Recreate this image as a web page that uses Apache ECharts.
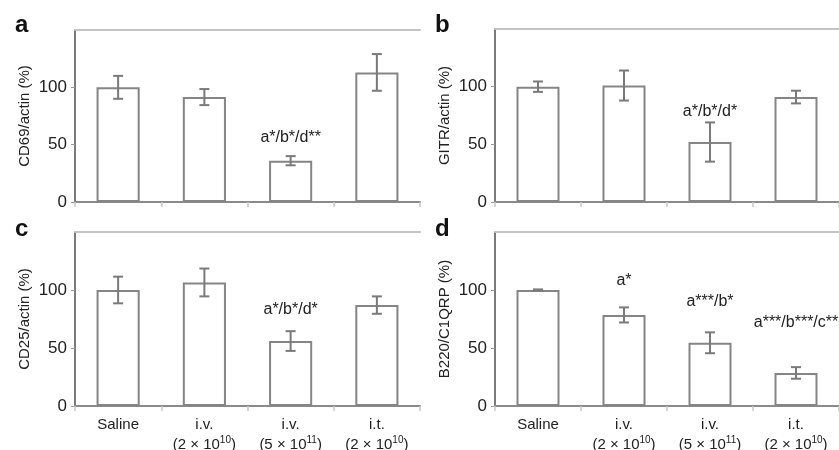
<!DOCTYPE html>
<html>
<head>
<meta charset="utf-8">
<script src="https://cdn.jsdelivr.net/npm/echarts@6/dist/echarts.min.js"></script>
<style>
  html, body { margin: 0; padding: 0; background: #fff; }
  #chart { width: 839px; height: 450px; }
</style>
</head>
<body>
<div id="chart"></div>
<script>
// categories and tick label pieces
const categories = ['Saline', 'i.v. (2x10^10)', 'i.v. (5x10^11)', 'i.t. (2x10^10)'];
const tickLine1 = ['Saline', 'i.v.', 'i.v.', 'i.t.'];
const tickLine2 = ['', '(2 \u00d7 10', '(5 \u00d7 10', '(2 \u00d7 10'];
const tickExp = ['', '10', '11', '10'];
const yTicks = [0, 50, 100];

// panel values (% of saline) and error bars
const cd69 = [100, 91.5, 36, 113];
const cd69Err = [10, 7, 4, 16];
const gitr = [100, 101, 52, 91];
const gitrErr = [4.5, 13, 17, 5.5];
const cd25 = [100, 106.5, 56, 87];
const cd25Err = [11.5, 12, 8.5, 7.5];
const b220 = [100, 78.5, 54.5, 28.5];
const b220Err = [0.5, 6.5, 9, 5];

// significance notes: [category index, value, text]
const notesA = [[2, 56, 'a*/b*/d**']];
const notesB = [[2, 78, 'a*/b*/d*']];
const notesC = [[2, 83, 'a*/b*/d*']];
const notesD = [[1, 108.5, 'a*'], [2, 90, 'a***/b*'], [3, 71.5, 'a***/b***/c**']];

const panels = [
  { letter: 'a', name: 'CD69/actin (%)', vals: cd69, err: cd69Err, notes: notesA },
  { letter: 'b', name: 'GITR/actin (%)', vals: gitr, err: gitrErr, notes: notesB },
  { letter: 'c', name: 'CD25/actin (%)', vals: cd25, err: cd25Err, notes: notesC },
  { letter: 'd', name: 'B220/C1QRP (%)', vals: b220, err: b220Err, notes: notesD }
];

const font = '"Liberation Sans", Arial, sans-serif';
const ink = '#222';
const grids = [
  { left: 75, width: 345, top: 30, height: 172, outerBoundsMode: 'none' },
  { left: 495, width: 344, top: 29, height: 173, outerBoundsMode: 'none' },
  { left: 75, width: 345, top: 232, height: 174, outerBoundsMode: 'none' },
  { left: 495, width: 344, top: 232, height: 174, outerBoundsMode: 'none' }
];

const chart = echarts.init(document.getElementById('chart'));

const xAxis = [];
const yAxis = [];
const series = [];
const title = [];

panels.forEach((p, i) => {
  const showLabels = i >= 2;
  xAxis.push({
    type: 'category', gridIndex: i, data: categories,
    axisLine: { lineStyle: { color: '#8a8a8a', width: 2 } },
    axisTick: { show: true, length: 5, lineStyle: { color: '#c8c8c8', width: 1.5 } },
    axisLabel: {
      show: showLabels, interval: 0, margin: 9, fontFamily: font, color: ink,
      formatter: (v, idx) => {
        let s = '{n|' + tickLine1[idx] + '}';
        if (tickLine2[idx]) s += '\n{n|' + tickLine2[idx] + '}{s|' + tickExp[idx] + '}{n|)}';
        return s;
      },
      rich: {
        n: { fontSize: 15, lineHeight: 20, fontFamily: font, color: ink },
        s: { fontSize: 10, lineHeight: 20, verticalAlign: 'top', fontFamily: font, color: ink }
      }
    }
  });
  // top border line
  xAxis.push({
    type: 'category', gridIndex: i, data: categories, position: 'top',
    axisLine: { lineStyle: { color: '#c4c4c4', width: 2 } },
    axisTick: { show: false }, axisLabel: { show: false }
  });
  yAxis.push({
    type: 'value', gridIndex: i, min: 0, max: 150, interval: 50,
    name: p.name, nameLocation: 'middle', nameGap: 43,
    nameTextStyle: { fontSize: 15, fontFamily: font, color: ink },
    axisLine: { show: true, lineStyle: { color: '#7a7a7a', width: 2 } },
    axisTick: { show: true, length: 4, lineStyle: { color: '#9a9a9a' } },
    splitLine: { show: false },
    axisLabel: {
      showMaxLabel: false, fontSize: 17, fontFamily: font, color: ink, margin: 8,
      formatter: v => (yTicks.indexOf(v) >= 0 ? String(v) : '')
    }
  });
  series.push({
    type: 'bar', xAxisIndex: i * 2, yAxisIndex: i, data: p.vals, barWidth: '50%',
    itemStyle: { color: '#fff', borderColor: '#858585', borderWidth: 2 },
    silent: true
  });
  series.push({
    type: 'custom', xAxisIndex: i * 2, yAxisIndex: i,
    data: p.vals.map((v, k) => [k, v, p.err[k]]),
    renderItem: (params, api) => {
      const k = api.value(0), v = api.value(1), e = api.value(2);
      const top = api.coord([k, v + e]);
      const bot = api.coord([k, v - e]);
      const hw = 5;
      const st = { stroke: '#7a7a7a', lineWidth: 2 };
      return {
        type: 'group', children: [
          { type: 'line', shape: { x1: top[0], y1: top[1], x2: bot[0], y2: bot[1] }, style: st },
          { type: 'line', shape: { x1: top[0] - hw, y1: top[1], x2: top[0] + hw, y2: top[1] }, style: st },
          { type: 'line', shape: { x1: bot[0] - hw, y1: bot[1], x2: bot[0] + hw, y2: bot[1] }, style: st }
        ]
      };
    },
    z: 5, silent: true
  });
  series.push({
    type: 'custom', xAxisIndex: i * 2, yAxisIndex: i,
    data: p.notes,
    renderItem: (params, api) => {
      const pt = api.coord([api.value(0), api.value(1)]);
      const txt = p.notes[params.dataIndex][2];
      return {
        type: 'text', x: pt[0], y: pt[1],
        style: { text: txt, fontSize: 16, fontFamily: font, fill: ink, align: 'center', verticalAlign: 'middle' }
      };
    },
    z: 6, silent: true
  });
  title.push({
    text: p.letter,
    left: i % 2 === 0 ? 10 : 430,
    top: i < 2 ? 8 : 212,
    textStyle: { fontSize: 24, fontWeight: 'bold', fontFamily: font, color: '#111' }
  });
});

chart.setOption({
  animation: false,
  title: title,
  grid: grids,
  xAxis: xAxis,
  yAxis: yAxis,
  series: series
});
</script>
</body>
</html>
